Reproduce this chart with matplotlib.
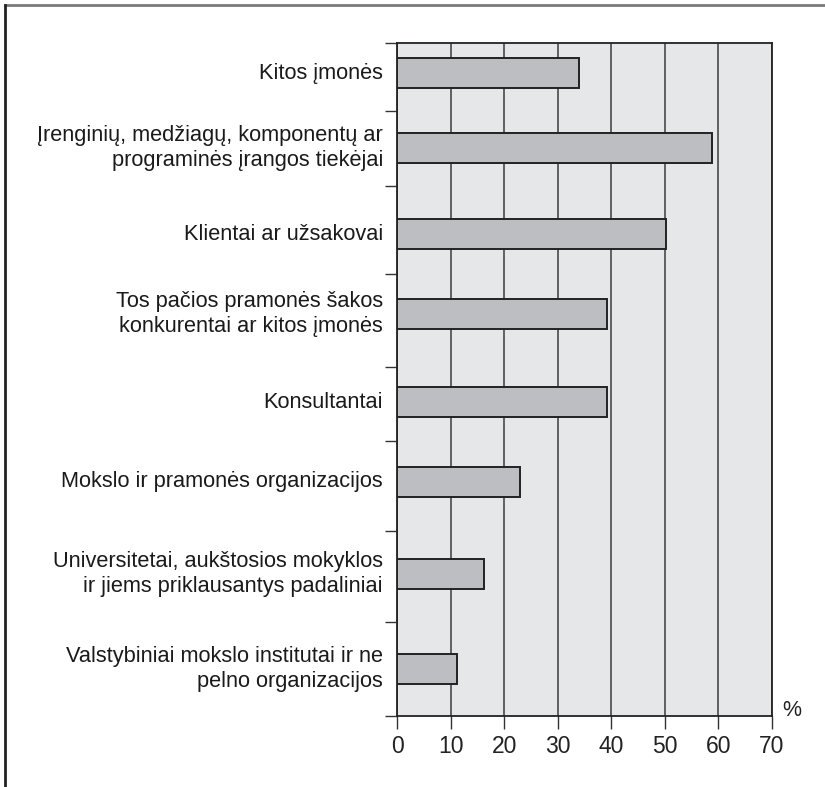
import matplotlib.pyplot as plt
from matplotlib.lines import Line2D

# Partner types and share of firms (%)
categories = [
    "Kitos įmonės",
    "Įrenginių, medžiagų, komponentų ar\nprograminės įrangos tiekėjai",
    "Klientai ar užsakovai",
    "Tos pačios pramonės šakos\nkonkurentai ar kitos įmonės",
    "Konsultantai",
    "Mokslo ir pramonės organizacijos",
    "Universitetai, aukštosios mokyklos\nir jiems priklausantys padaliniai",
    "Valstybiniai mokslo institutai ir ne\npelno organizacijos",
]
values = [34.0, 58.8, 50.3, 39.2, 39.2, 22.9, 16.3, 11.2]
xticks = [0, 10, 20, 30, 40, 50, 60, 70]

# row layout (top-down units, axis spans 0..673)
row_centers = [30, 105, 191, 271, 359, 439, 531, 626]
row_breaks = [0, 68, 143, 231, 324, 398, 488, 579, 673]
bar_h = 30

W, H = 825, 787
fig = plt.figure(figsize=(W / 100, H / 100), dpi=100)
ax = fig.add_axes([397 / W, 1 - 716 / H, 375 / W, 673 / H])
ax.set_facecolor("#e6e7e9")

ax.barh(row_centers, values, height=bar_h, color="#bdbec2",
        edgecolor="#222222", linewidth=1.4, zorder=3)

ax.set_xlim(0, 70)
ax.set_ylim(673, 0)
ax.set_xticks(xticks)
ax.set_xticklabels([str(t) for t in xticks])
ax.xaxis.grid(True, color="#555555", linewidth=1.3, zorder=1)
ax.set_axisbelow(True)

ax.set_yticks(row_breaks)
ax.set_yticklabels([])
ax.tick_params(axis="y", length=9, width=1, color="#333333")
ax.tick_params(axis="x", length=9, width=1, color="#333333", pad=5,
               labelsize=16.5)
for lbl in ax.get_xticklabels():
    lbl.set_family(["Liberation Sans Narrow", "Liberation Sans"])
    lbl.set_color("#222222")

for s in ax.spines.values():
    s.set_color("#222222")
    s.set_linewidth(1.3)

for yc, name in zip(row_centers, categories):
    ax.text(-14 / 5.357, yc, name, ha="right", va="center", fontsize=15.7,
            family=["Liberation Sans", "DejaVu Sans"], color="#1a1a1a",
            linespacing=1.22)

ax.text(1.028, 0.0, "%", transform=ax.transAxes, ha="left", va="baseline",
        fontsize=15.5, family=["Liberation Sans Narrow", "Liberation Sans"],
        color="#222222")

# page frame lines
fig.add_artist(Line2D([4.5 / W, 1], [1 - 4.5 / H, 1 - 4.5 / H],
                      color="#7a7a7a", linewidth=2))
fig.add_artist(Line2D([4.5 / W, 4.5 / W], [0, 1 - 4.5 / H],
                      color="#222222", linewidth=2))

fig.savefig("out.png", dpi=100)
